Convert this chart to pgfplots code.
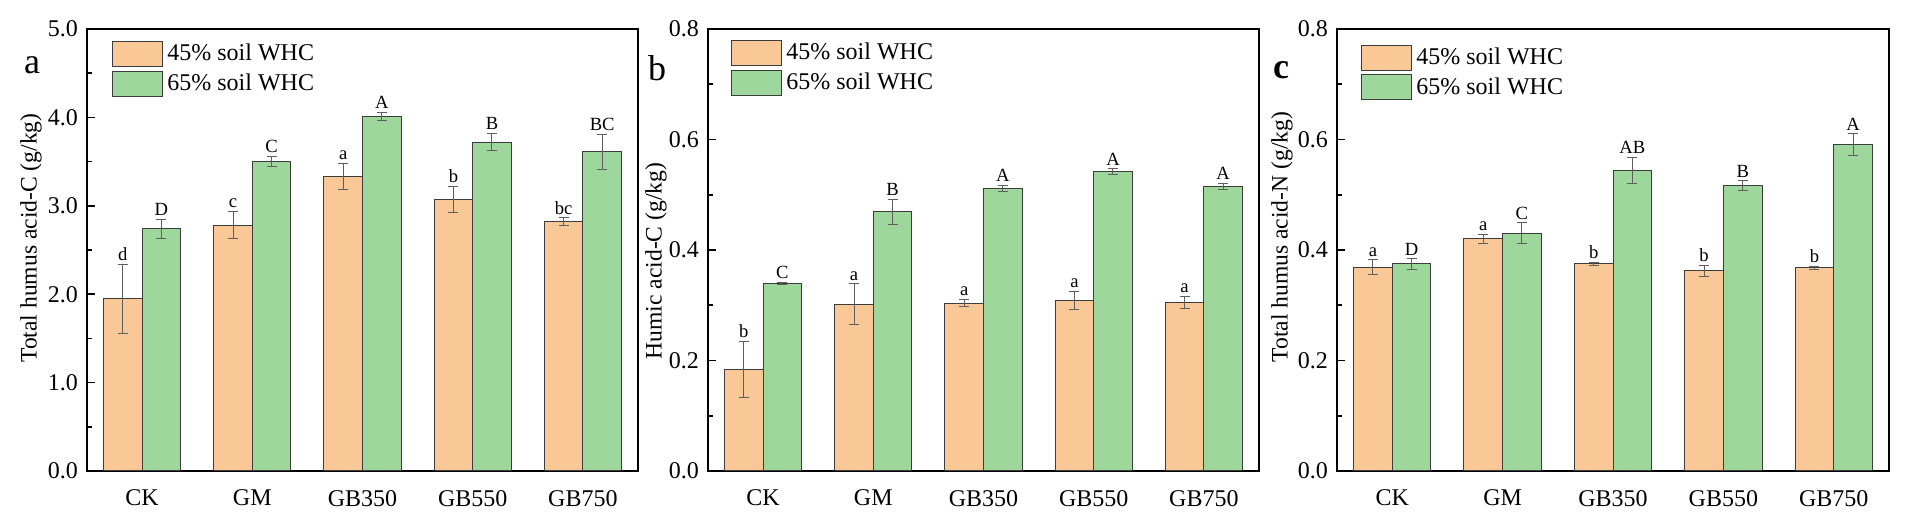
\documentclass[border=0pt]{standalone}
\usepackage{fontspec}
\setmainfont{Liberation Serif}
\usepackage{pgfplots}
\usepackage{pgfplotstable}
\pgfplotsset{compat=1.18}
\definecolor{barO}{RGB}{250,200,150}
\definecolor{barG}{RGB}{158,215,155}
\definecolor{edge}{RGB}{60,60,60}
\definecolor{errc}{RGB}{95,95,95}

\pgfplotstableread{
x y e l
0 1.95 0.39 d
1 2.78 0.155 c
2 3.33 0.15 a
3 3.07 0.15 b
4 2.82 0.045 bc
}\aO
\pgfplotstableread{
x y e l
0 2.74 0.107 D
1 3.50 0.06 C
2 4.01 0.05 A
3 3.72 0.10 B
4 3.61 0.20 BC
}\aG
\pgfplotstableread{
x y e l
0 0.184 0.051 b
1 0.302 0.037 a
2 0.304 0.007 a
3 0.309 0.016 a
4 0.305 0.0115 a
}\bO
\pgfplotstableread{
x y e l
0 0.340 0.002 C
1 0.469 0.023 B
2 0.511 0.006 A
3 0.542 0.005 A
4 0.515 0.006 A
}\bG
\pgfplotstableread{
x y e l
0 0.369 0.013 a
1 0.420 0.008 a
2 0.375 0.003 b
3 0.362 0.0105 b
4 0.368 0.003 b
}\cO
\pgfplotstableread{
x y e l
0 0.375 0.0096 D
1 0.430 0.019 C
2 0.544 0.024 AB
3 0.517 0.0085 B
4 0.591 0.020 A
}\cG

\pgfplotsset{
 panel/.style={
  scale only axis, width=275.5pt, height=221pt, anchor=south west,
  xmin=-0.5, xmax=4.5, ymin=0,
  xtick={0,1,2,3,4}, xticklabels={CK,GM,GB350,GB550,GB750},
  xtick style={draw=none},
  ytick pos=left, tick align=inside,
  minor y tick num=1,
  major tick length=4pt, minor tick length=2.5pt,
  tick style={line width=0.8pt, black},
  axis line style={line width=1pt},
  ybar, bar width=0.35,
  clip=false,
  tick label style={font=\fontsize{12}{14}\selectfont},
  xticklabel style={yshift=-2pt},
  yticklabel style={xshift=-1pt, /pgf/number format/.cd, fixed, fixed zerofill, precision=1},
  /pgf/number format/assume math mode=true,
  every axis y label/.style={rotate=90, anchor=center, font=\fontsize{11.8}{13}\selectfont},
  legend style={draw=none, fill=none, inner sep=0pt, at={(axis description cs:0,1)}, anchor=north west, font=\fontsize{12}{14}\selectfont, row sep=1pt},
  legend cell align=left,
  legend image code/.code={\draw[##1] (0pt,-6.25pt) rectangle (25pt,6.25pt);},
  nodes near coords style={font=\fontsize{9.3}{10}\selectfont, anchor=south, inner sep=1.5pt, black},
 },
 oBar/.style={fill=barO, draw=edge, line width=0.5pt, bar shift=-0.175},
 gBar/.style={fill=barG, draw=edge, line width=0.5pt, bar shift=0.175},
 errs/.style={error bars/.cd, y dir=both, y explicit, error bar style={line width=0.5pt, draw=errc}, error mark options={rotate=90, mark size=2.5pt, line width=0.5pt, draw=errc}},
 lab/.style={draw=none, fill=none, bar shift=#1, nodes near coords, point meta=explicit symbolic, forget plot},
}

\begin{document}
\begin{tikzpicture}
\useasboundingbox (0,0) rectangle (954pt,259.5pt);
% panel a
\begin{axis}[panel, at={(43.5pt,24pt)}, ymax=5, ytick={0,1,2,3,4,5},
  ylabel={Total humus acid-C (g/kg)}, ylabel style={at={(axis description cs:-0.1016,0.527)}, font=\fontsize{11.8}{13}\selectfont},
  legend style={xshift=12.5pt, yshift=-5.4pt}]
\addplot[oBar, errs] table[x=x, y=y, y error=e] {\aO};
\addlegendentry{45\% soil WHC}
\addplot[gBar, errs] table[x=x, y=y, y error=e] {\aG};
\addlegendentry{65\% soil WHC}
\addplot[lab=-0.175] table[x=x, y expr=\thisrow{y}+\thisrow{e}, meta=l] {\aO};
\addplot[lab=0.175] table[x=x, y expr=\thisrow{y}+\thisrow{e}, meta=l] {\aG};
\node[font=\fontsize{18}{18}\selectfont, anchor=base] at ([xshift=-27.5pt, yshift=-22pt]rel axis cs:0,1) {a};
\end{axis}
% panel b
\begin{axis}[panel, at={(354pt,24pt)}, ymax=0.8, ytick={0,0.2,0.4,0.6,0.8},
  ylabel={Humic acid-C (g/kg)}, ylabel style={at={(axis description cs:-0.0944,0.475)}, font=\fontsize{11.8}{13}\selectfont},
  legend style={xshift=11.5pt, yshift=-4.9pt}]
\addplot[oBar, errs] table[x=x, y=y, y error=e] {\bO};
\addlegendentry{45\% soil WHC}
\addplot[gBar, errs] table[x=x, y=y, y error=e] {\bG};
\addlegendentry{65\% soil WHC}
\addplot[lab=-0.175] table[x=x, y expr=\thisrow{y}+\thisrow{e}, meta=l] {\bO};
\addplot[lab=0.175] table[x=x, y expr=\thisrow{y}+\thisrow{e}, meta=l] {\bG};
\node[font=\fontsize{18}{18}\selectfont, anchor=base] at ([xshift=-25.5pt, yshift=-25.5pt]rel axis cs:0,1) {b};
\end{axis}
% panel c
\begin{axis}[panel, at={(668.5pt,24pt)}, width=276pt, ymax=0.8, ytick={0,0.2,0.4,0.6,0.8},
  ylabel={Total humus acid-N (g/kg)}, ylabel style={at={(axis description cs:-0.0996,0.529)}, font=\fontsize{11.8}{13}\selectfont},
  legend style={xshift=12pt, yshift=-7.2pt}]
\addplot[oBar, errs] table[x=x, y=y, y error=e] {\cO};
\addlegendentry{45\% soil WHC}
\addplot[gBar, errs] table[x=x, y=y, y error=e] {\cG};
\addlegendentry{65\% soil WHC}
\addplot[lab=-0.175] table[x=x, y expr=\thisrow{y}+\thisrow{e}, meta=l] {\cO};
\addplot[lab=0.175] table[x=x, y expr=\thisrow{y}+\thisrow{e}, meta=l] {\cG};
\node[font=\fontsize{18}{18}\selectfont\bfseries, anchor=base] at ([xshift=-28pt, yshift=-24.5pt]rel axis cs:0,1) {c};
\end{axis}
\end{tikzpicture}
\end{document}
